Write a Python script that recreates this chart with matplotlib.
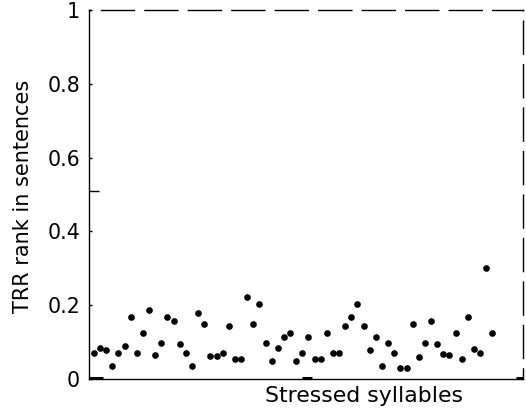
import matplotlib
matplotlib.use("Agg")
import matplotlib.pyplot as plt
import matplotlib.transforms as mtransforms

# ---------------------------------------------------------------------------
# Data
# ---------------------------------------------------------------------------
trr_rank = [
    0.070, 0.083, 0.079, 0.035, 0.070, 0.089, 0.169, 0.070, 0.124, 0.188,
    0.064, 0.098, 0.167, 0.158, 0.094, 0.070, 0.034, 0.178, 0.148, 0.063,
    0.063, 0.070, 0.143, 0.054, 0.054, 0.221, 0.148, 0.202, 0.098, 0.049,
    0.083, 0.113, 0.124, 0.049, 0.070, 0.113, 0.054, 0.054, 0.124, 0.070,
    0.070, 0.143, 0.167, 0.202, 0.143, 0.079, 0.113, 0.035, 0.098, 0.070,
    0.029, 0.029, 0.148, 0.060, 0.098, 0.158, 0.094, 0.068, 0.064, 0.124,
    0.055, 0.167, 0.080, 0.070, 0.301, 0.124,
]
syllable_idx = list(range(1, len(trr_rank) + 1))

y_ticks = [0, 0.2, 0.4, 0.6, 0.8, 1]
y_tick_labels = ["0", "0.2", "0.4", "0.6", "0.8", "1"]
y_extra_tick = [0.51]

x_label = "Stressed syllables"
y_label = "TRR rank in sentences"

# small thick marks on the bottom axis line (x ranges, data units)
bottom_marks = [(0.2, 2.5), (35.0, 36.6), (69.8, 71.0)]

# ---------------------------------------------------------------------------
# Figure
# ---------------------------------------------------------------------------
plt.rcParams["font.family"] = ["DejaVu Sans"]

fig = plt.figure(figsize=(5.26, 4.15), dpi=100)
ax = fig.add_axes([89 / 526, 36 / 415, 434 / 526, 369 / 415])

ax.plot(syllable_idx, trr_rank, "o", color="black", markersize=4.8,
        markeredgewidth=0, clip_on=False)

ax.set_xlim(0.2, 71)
ax.set_ylim(0, 1)

ax.set_xticks([])
ax.set_yticks(y_ticks)
ax.set_yticklabels(y_tick_labels, fontsize=14.8)
ax.tick_params(axis="y", direction="in", length=2.5, width=1, pad=6.5)
ax.set_yticks(y_extra_tick, minor=True)
ax.tick_params(axis="y", which="minor", direction="in", length=7, width=1)

for side in ("left", "bottom"):
    ax.spines[side].set_linewidth(1.0)
    ax.spines[side].set_color("black")
ax.spines["top"].set_linewidth(1.0)
ax.spines["top"].set_linestyle((22.7, (23.8, 7.5)))
ax.spines["right"].set_linewidth(1.0)
ax.spines["right"].set_linestyle((16.2, (23.8, 7.5)))

# thick marks on the bottom line
trans = mtransforms.blended_transform_factory(ax.transData, ax.transAxes)
for x0, x1 in bottom_marks:
    ax.plot([x0, x1], [0.004, 0.004], color="black", linewidth=2.2,
            transform=trans, clip_on=False, solid_capstyle="butt")

ax.set_xlabel(x_label, fontsize=15.8)
ax.xaxis.set_label_coords(0.6325, -0.018)
ax.set_ylabel(y_label, fontsize=15)
ax.yaxis.set_label_coords(-0.128, 0.496)

fig.savefig("out.png", dpi=100)
